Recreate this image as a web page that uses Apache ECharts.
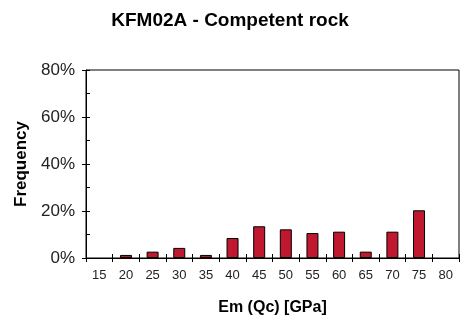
<!DOCTYPE html>
<html>
<head>
<meta charset="utf-8">
<script src="https://cdn.jsdelivr.net/npm/echarts@6/dist/echarts.min.js"></script>
<style>
  html, body { margin: 0; padding: 0; background: #fff; }
  #chart { width: 460px; height: 325px; }
</style>
</head>
<body>
<div id="chart"></div>
<script>
// Deformation modulus classes (GPa) and share of samples in each class (%)
const categories = ['15', '20', '25', '30', '35', '40', '45', '50', '55', '60', '65', '70', '75', '80'];
const frequency = [0, 1.3, 2.7, 4.3, 1.3, 8.5, 13.5, 12.2, 10.6, 11.2, 2.7, 11.2, 20.3, 0];
const yTicks = { min: 0, max: 80, interval: 20 };

const font = 'Liberation Sans, Arial, sans-serif';
const black = '#000';

// empty classes get no bar at all
const barData = frequency.map(v => (v === 0 ? '-' : v));

const chart = echarts.init(document.getElementById('chart'));
chart.setOption({
  animation: false,
  title: {
    text: 'KFM02A - Competent rock',
    left: 'center',
    top: 6,
    textStyle: { fontFamily: font, fontSize: 19, fontWeight: 'bold', color: black }
  },
  grid: {
    left: 86, right: 1, top: 70, bottom: 67,
    show: true, borderColor: black, borderWidth: 1, backgroundColor: 'transparent'
  },
  xAxis: [
    {
      type: 'category',
      data: categories,
      position: 'bottom',
      name: 'Em (Qc) [GPa]',
      nameLocation: 'middle',
      nameGap: 42,
      nameTextStyle: { fontFamily: font, fontSize: 16, fontWeight: 'bold', color: black },
      axisLine: { lineStyle: { color: black, width: 1 } },
      axisTick: { show: true, length: 4, inside: false, lineStyle: { color: black } },
      axisLabel: { fontFamily: font, fontSize: 13, color: '#222', margin: 11 },
      splitLine: { show: false }
    },
    {
      // inner half of the crossing ticks
      type: 'category',
      data: categories,
      position: 'bottom',
      axisLine: { show: false },
      axisTick: { show: true, length: 4, inside: true, lineStyle: { color: black } },
      axisLabel: { show: false },
      splitLine: { show: false }
    }
  ],
  yAxis: [
    {
      type: 'value',
      min: yTicks.min, max: yTicks.max, interval: yTicks.interval,
      name: 'Frequency',
      nameLocation: 'middle',
      nameGap: 54,
      nameTextStyle: { fontFamily: font, fontSize: 17, fontWeight: 'bold', color: black },
      axisLine: { show: true, lineStyle: { color: black, width: 1 } },
      axisTick: { show: true, length: 4, inside: false, lineStyle: { color: black } },
      axisLabel: { formatter: '{value}%', fontFamily: font, fontSize: 17, color: '#222', margin: 11 },
      splitLine: { show: false }
    },
    {
      // inner half of the major ticks plus the minor ticks
      type: 'value',
      position: 'left',
      min: yTicks.min, max: yTicks.max, interval: yTicks.interval,
      axisLine: { show: false },
      axisTick: { show: true, length: 4, inside: true, lineStyle: { color: black } },
      minorTick: { show: true, splitNumber: 2, length: 4, lineStyle: { color: black } },
      axisLabel: { show: false },
      splitLine: { show: false }
    }
  ],
  series: [
    {
      type: 'bar',
      data: barData,
      xAxisIndex: 0,
      yAxisIndex: 0,
      barWidth: 12,
      itemStyle: { color: '#C0182F', borderColor: black, borderWidth: 1 }
    }
  ]
});
</script>
</body>
</html>
